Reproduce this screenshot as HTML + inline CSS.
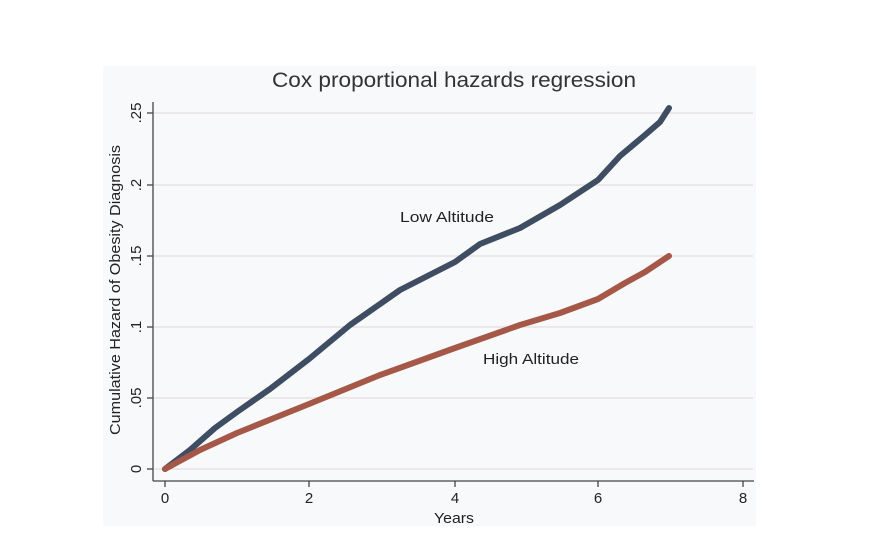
<!DOCTYPE html>
<html><head><meta charset="utf-8"><style>
html,body{margin:0;padding:0;background:#fff;}
svg{display:block;font-family:"Liberation Sans",sans-serif;}
</style></head><body>
<svg width="886" height="539" viewBox="0 0 886 539">
<rect x="103" y="66" width="653" height="460" fill="#f8f9fb"/>
<text x="454" y="87" font-size="21" fill="#333" text-anchor="middle" textLength="364" lengthAdjust="spacingAndGlyphs">Cox proportional hazards regression</text>
<g stroke="#e8e2e4" stroke-width="1.5">
<line x1="154" x2="753" y1="113" y2="113"/>
<line x1="154" x2="753" y1="185" y2="185"/>
<line x1="154" x2="753" y1="256" y2="256"/>
<line x1="154" x2="753" y1="327" y2="327"/>
<line x1="154" x2="753" y1="398" y2="398"/>
<line x1="154" x2="753" y1="469" y2="469"/>
</g>
<g stroke="#444" stroke-width="1.3">
<line x1="153" y1="102" x2="153" y2="481"/>
<line x1="153" y1="481" x2="754" y2="481"/>
<line x1="147" x2="153" y1="113" y2="113"/>
<line x1="147" x2="153" y1="185" y2="185"/>
<line x1="147" x2="153" y1="256" y2="256"/>
<line x1="147" x2="153" y1="327" y2="327"/>
<line x1="147" x2="153" y1="398" y2="398"/>
<line x1="147" x2="153" y1="469" y2="469"/>
<line x1="165" x2="165" y1="481" y2="487"/>
<line x1="309" x2="309" y1="481" y2="487"/>
<line x1="455" x2="455" y1="481" y2="487"/>
<line x1="598" x2="598" y1="481" y2="487"/>
<line x1="743" x2="743" y1="481" y2="487"/>
</g>
<g font-size="15" fill="#222" text-anchor="middle">
<text x="165" y="503">0</text><text x="309" y="503">2</text><text x="455" y="503">4</text><text x="598" y="503">6</text><text x="743" y="503">8</text>
<text x="454" y="523" textLength="40" lengthAdjust="spacingAndGlyphs">Years</text>
<text transform="translate(141,113) rotate(-90)">.25</text>
<text transform="translate(141,185) rotate(-90)">.2</text>
<text transform="translate(141,256) rotate(-90)">.15</text>
<text transform="translate(141,327) rotate(-90)">.1</text>
<text transform="translate(141,398) rotate(-90)">.05</text>
<text transform="translate(141,469) rotate(-90)">0</text>
<text transform="translate(120,290) rotate(-90)" textLength="290" lengthAdjust="spacingAndGlyphs">Cumulative Hazard of Obesity Diagnosis</text>
<text x="447" y="222" textLength="94" lengthAdjust="spacingAndGlyphs">Low Altitude</text>
<text x="531" y="364" textLength="96" lengthAdjust="spacingAndGlyphs">High Altitude</text>
</g>
<g fill="none" stroke-width="6" stroke-linecap="round" stroke-linejoin="round">
<polyline stroke="#3f4d62" points="165,469 190,450 215,428 237,412 270,389 309,359 350,325 400,290 455,262 480,244 520,228 560,205 598,180 620,156 645,135 660,122 669,108"/>
<polyline stroke="#a65848" points="165,469 200,450 237,433 309,404 380,375 455,348 520,325 560,313 598,299 625,283 645,272 669,256"/>
</g>
</svg>
</body></html>
